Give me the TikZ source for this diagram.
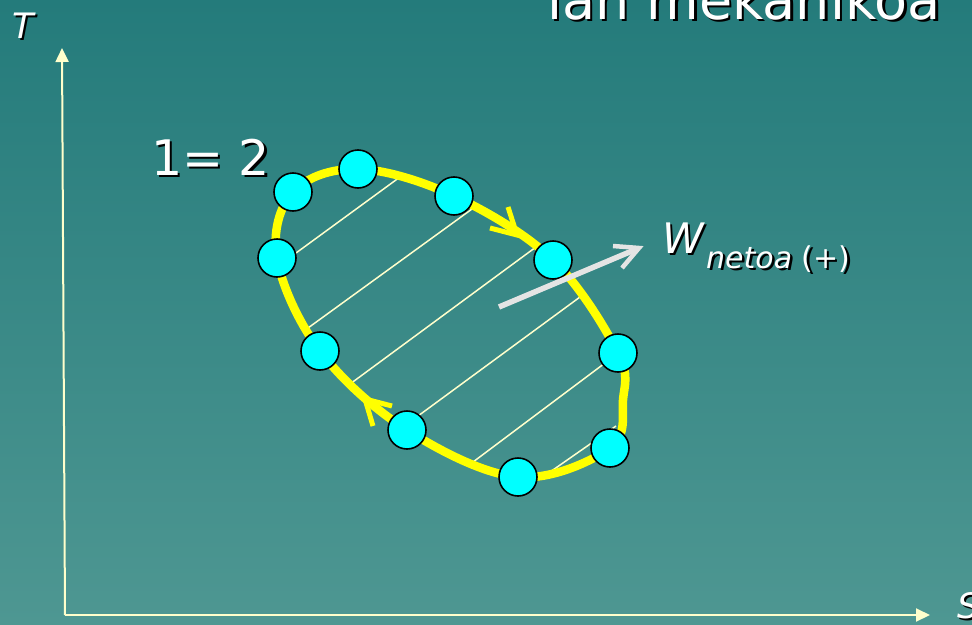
\documentclass[tikz,border=0pt]{standalone}
\usepackage{fontspec}
\setmainfont{DejaVu Sans}
\usetikzlibrary{arrows.meta}
\definecolor{bgtop}{RGB}{36,123,123}
\definecolor{bgbot}{RGB}{78,151,146}
\definecolor{axiscol}{RGB}{255,255,204}
\definecolor{hatch}{RGB}{255,255,204}
\definecolor{loopcol}{RGB}{255,255,0}
\definecolor{ballcol}{RGB}{0,255,255}
\definecolor{warrow}{RGB}{228,228,228}
\newcommand{\fs}[1]{\fontsize{#1}{#1}\selectfont}
\newcommand{\shadowtext}[4]{%
  \node[anchor=base west, text=black, inner sep=0pt] at ([shift={(2.5,2.5)}]#1) {#3};
  \node[anchor=base west, text=white, inner sep=0pt] (#2) at (#1) {#3};}
\tikzset{
  axisline/.style={draw=axiscol, line width=2pt, -{Triangle[length=14pt,width=13pt]}},
  hatchline/.style={draw=hatch, line width=1.5pt},
  loopline/.style={draw=loopcol, line width=8.5pt},
  chevron/.style={draw=loopcol, line width=5pt},
  ball/.style={circle, draw=black, line width=1.6pt, fill=ballcol, minimum size=38pt, inner sep=0pt},
}
\begin{document}
\begin{tikzpicture}[x=1pt,y=-1pt]
\useasboundingbox (0,0) rectangle (972,624);
\shade[top color=bgtop, bottom color=bgbot] (0,0) rectangle (972,624);
% axes
\coordinate (O) at (65,615);
\coordinate (Ttip) at (62,48);
\coordinate (Stip) at (930,615);
\draw[axisline] (O) -- (Ttip);
\draw[axisline] (O) -- (Stip);
% hatching
\coordinate (h1a) at (400,177); \coordinate (h1b) at (296,253);
\coordinate (h2a) at (472,209); \coordinate (h2b) at (308,328);
\coordinate (h3a) at (536,247); \coordinate (h3b) at (350,384);
\coordinate (h4a) at (580,297); \coordinate (h4b) at (418,416);
\coordinate (h5a) at (605,363); \coordinate (h5b) at (473,462);
\coordinate (h6a) at (616,426); \coordinate (h6b) at (550,472);
\foreach \i in {1,...,6} \draw[hatchline] (h\i a) -- (h\i b);
% loop points
\coordinate (p1) at (293,192);
\coordinate (p2) at (358,169);
\coordinate (p3) at (454,196);
\coordinate (p4) at (553,260);
\coordinate (p5) at (618,353);
\coordinate (p6) at (610,448);
\coordinate (p7) at (518,477);
\coordinate (p8) at (407,430);
\coordinate (p9) at (320,351);
\coordinate (p10) at (277,258);
\coordinate (q1) at (623,400);
\draw[loopline] plot[smooth cycle, tension=0.6] coordinates {(p1) (p2) (p3) (p4) (p5) (q1) (p6) (p7) (p8) (p9) (p10)};
% chevrons
\coordinate (c1) at (517,235);
\draw[chevron, line cap=butt] (508,207) -- (c1) -- (490,228);
\coordinate (c2) at (365,399);
\draw[chevron, line cap=butt] (392,406) -- (c2) -- (373,426);
% balls
\foreach \i in {1,...,10} \node[ball] (b\i) at (p\i) {};
% work arrow
\coordinate (wa) at (499,307);
\coordinate (wb) at (639,248);
\draw[draw=warrow, line width=5.5pt] (wa) -- ([shift={(-3,1.3)}]wb);
\draw[draw=warrow, line width=4.5pt] (613,246) -- (wb) -- (622,268);
% labels
\shadowtext{12,38}{tlab}{\fs{35}\itshape T}{}
\shadowtext{957,618}{slab}{\fs{35}\itshape S}{}
\shadowtext{151,175}{eq}{\fs{49}1= 2}{}
\shadowtext{547,19}{title}{\fs{54}lan mekanikoa}{}
\shadowtext{662,253}{wlab}{\fs{42}\itshape W}{}
\shadowtext{706,268}{wsub}{\fs{30}\textit{netoa} (+)}{}
\end{tikzpicture}
\end{document}
